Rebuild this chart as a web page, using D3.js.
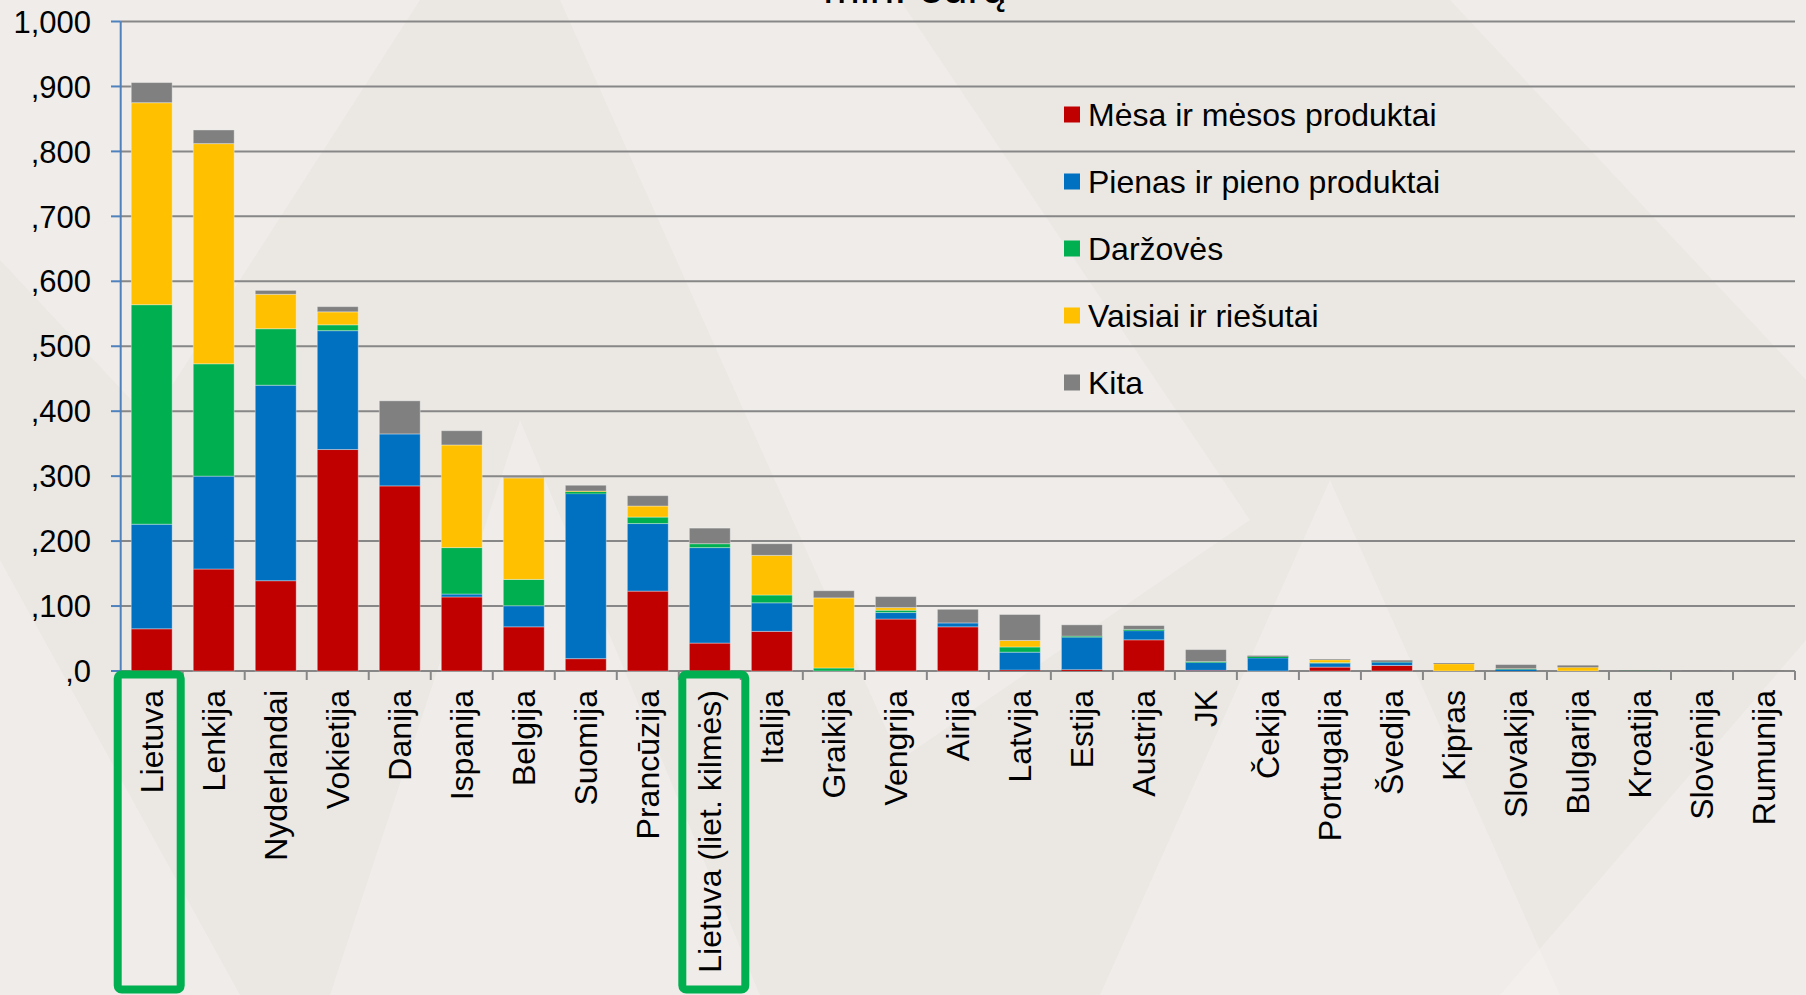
<!DOCTYPE html>
<html><head><meta charset="utf-8">
<script src="https://cdn.jsdelivr.net/npm/d3@7"></script>
<style>
body{margin:0;background:#eeebe7;}
svg{display:block;font-family:"Liberation Sans",Arial,sans-serif;}
</style>
</head><body>
<svg id="c" width="1806" height="995"></svg>
<script>
// ---- data ----
const categories = ["Lietuva","Lenkija","Nyderlandai","Vokietija","Danija","Ispanija","Belgija","Suomija","Prancūzija","Lietuva (liet. kilmės)","Italija","Graikija","Vengrija","Airija","Latvija","Estija","Austrija","JK","Čekija","Portugalija","Švedija","Kipras","Slovakija","Bulgarija","Kroatija","Slovėnija","Rumunija"];
const seriesNames = ["Mėsa ir mėsos produktai","Pienas ir pieno produktai","Daržovės","Vaisiai ir riešutai","Kita"];
const meat  = [65,157,139,341,285,114,68,19,123,43,61,0,80,68,1.5,2,48,1,0,6,8.5,0,0,0,0,0,0];
const milk  = [161,143,301,183,80,4.5,32.5,254,104,147,44,0,10,6,27.5,50,14,12,20,6,5,0,2.5,0,0,0,0];
const veg   = [338,173,87,9,0,71.5,40.5,3,10,6,12,4.6,3.6,0,8,1.6,2,1.5,2,1,0.5,0,0.5,0,0.5,0,0];
const fruit = [311,339,53,20,0,158,156,1,17,0,61,108,4,0,10,0,0,0,0,4,0,11,0.5,5.6,0,0,0];
const other = [31,21,6,8,51,22,0.8,9,16,24,18,11,17,21,40,17.5,6,18.5,1.6,1,2.5,1.2,6.5,3,1,1,0.6];
const seriesColors = ["#c00000","#0070c0","#00b050","#ffc000","#808080"];
const yTicks = [0,100,200,300,400,500,600,700,800,900,1000];
const yTickLabels = [",0",",100",",200",",300",",400",",500",",600",",700",",800",",900","1,000"];
const highlighted = ["Lietuva","Lietuva (liet. kilmės)"];
const titleText = "mln. eurų";

// ---- build ----
const svg = d3.select("#c");
const W = 1806, H = 995;

// background decoration
const bg = svg.append("g");
bg.append("rect").attr("width",W).attr("height",H).attr("fill","#ebe8e4");
const polys = [
  [[0,0],[420,0],[150,420],[0,260]],
  [[330,995],[520,420],[760,995]],
  [[560,0],[900,0],[1250,520],[900,760]],
  [[1100,995],[1330,480],[1560,995]],
  [[1450,0],[1806,0],[1806,380]],
  [[0,560],[240,995],[0,995]],
  [[1500,995],[1806,640],[1806,995]]
];
bg.selectAll("polygon").data(polys).join("polygon")
  .attr("points", d => d.map(p => p.join(",")).join(" "))
  .attr("fill","#ffffff").attr("opacity",0.2);

const x = d3.scaleBand().domain(categories).range([120.7,1795]).paddingInner(0.34).paddingOuter(0.17);
const y = d3.scaleLinear().domain([0,1000]).range([671,21.5]);

// title (clipped at top, as in the reference)
svg.append("text").attr("x",915).attr("y",3).attr("text-anchor","middle")
  .attr("font-size",44).attr("fill","#000").text(titleText);

// gridlines
svg.append("g").selectAll("line").data(yTicks).join("line")
  .attr("x1",120.7).attr("x2",1795)
  .attr("y1",d=>y(d)).attr("y2",d=>y(d))
  .attr("stroke","#878787").attr("stroke-width",2);

// rows & stack
const keys = ["meat","milk","veg","fruit","other"];
const rows = categories.map((c,i)=>({cat:c, meat:meat[i], milk:milk[i], veg:veg[i], fruit:fruit[i], other:other[i]}));
const stacked = d3.stack().keys(keys)(rows);

svg.append("g").selectAll("g").data(stacked).join("g")
  .attr("fill",(d,i)=>seriesColors[i])
  .selectAll("rect").data(d=>d).join("rect")
  .attr("x",d=>x(d.data.cat))
  .attr("width",x.bandwidth())
  .attr("y",d=>y(d[1]))
  .attr("height",d=>Math.max(0,y(d[0])-y(d[1])))
  .attr("stroke","rgba(255,255,255,0.35)").attr("stroke-width",d=> (y(d[0])-y(d[1]))>2 ? 1 : 0);

// x-axis ticks between categories
const bounds = d3.range(categories.length+1).map(i => 120.7 + i*x.step());
svg.append("g").selectAll("line").data(bounds.slice(1)).join("line")
  .attr("x1",d=>d).attr("x2",d=>d).attr("y1",671).attr("y2",680)
  .attr("stroke","#878787").attr("stroke-width",2);

// y axis (blue)
svg.append("line").attr("x1",120.7).attr("x2",120.7).attr("y1",y(1000)).attr("y2",y(0))
  .attr("stroke","#4f81bd").attr("stroke-width",2);
svg.append("g").selectAll("line").data(yTicks).join("line")
  .attr("x1",111).attr("x2",120.7).attr("y1",d=>y(d)).attr("y2",d=>y(d))
  .attr("stroke","#4f81bd").attr("stroke-width",2);
svg.append("g").selectAll("text").data(yTicks).join("text")
  .attr("x",91).attr("y",d=>y(d)).attr("dy","0.36em").attr("text-anchor","end")
  .attr("font-size",31).attr("fill","#000")
  .text((d,i)=>yTickLabels[i]);

// x labels
svg.append("g").selectAll("text").data(categories).join("text")
  .attr("transform",d=>`translate(${x(d)+x.bandwidth()/2},690) rotate(-90)`)
  .attr("dy","0.35em").attr("text-anchor","end")
  .attr("font-size",32).attr("fill","#000")
  .text(d=>d);

// highlight boxes
const boxOffset = {"Lietuva":-2.5, "Lietuva (liet. kilmės)":4};
svg.append("g").selectAll("rect").data(highlighted).join("rect")
  .attr("x",d=>x(d)+x.bandwidth()/2+boxOffset[d]-31.5)
  .attr("width",63).attr("y",674.5).attr("height",315)
  .attr("rx",4).attr("ry",4)
  .attr("fill","none").attr("stroke","#00b050").attr("stroke-width",8);

// legend
const lg = svg.append("g").selectAll("g").data(seriesNames).join("g")
  .attr("transform",(d,i)=>`translate(1064,${114.5 + i*67})`);
lg.append("rect").attr("x",0).attr("y",-8).attr("width",16).attr("height",16)
  .attr("fill",(d,i)=>seriesColors[i]);
lg.append("text").attr("x",24).attr("dy","0.36em").attr("font-size",32).attr("fill","#000").text(d=>d);
</script>
</body></html>
